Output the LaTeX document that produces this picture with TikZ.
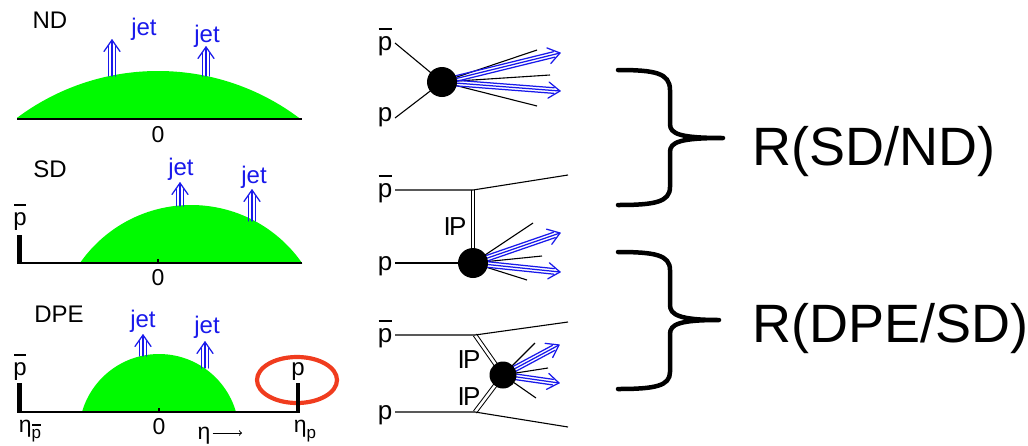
\documentclass[tikz,border=0pt]{standalone}
\usepackage{fontspec}
\setmainfont{Liberation Sans}
\usetikzlibrary{calc}
\pgfdeclarelayer{background}
\pgfsetlayers{background,main}

\definecolor{domegreen}{RGB}{0,250,0}
\definecolor{jetblue}{RGB}{25,25,235}
\definecolor{ringred}{RGB}{240,60,30}

% antiproton: p with a bar over it
\newcommand\pbar{\leavevmode\rlap{\hspace{0.03em}\raisebox{0.78em}{\rule{0.5em}{0.075em}}}p}
% rapidity symbol with a small lowered index
\newcommand\etawith[1]{η\raisebox{-0.3em}{\fontsize{17}{19}\selectfont #1}}
% Pomeron symbol
\newcommand\pomeron{I\kern-0.06em P}

% triple-lined jet arrow from #2 to #3, outer lines #1 off the middle one
\newcommand\jetarrow[3][3.8pt]{%
  \draw[jetline] (#2) -- (#3);
  \draw[jetline] ($(#2)!#1!90:(#3)$) -- ($(#3)!6pt!(#2)!#1!-90:(#2)$);
  \draw[jetline] ($(#2)!#1!-90:(#3)$) -- ($(#3)!6pt!(#2)!#1!90:(#2)$);
  \draw[jetline] ($(#3)!14pt!35:(#2)$) -- (#3) -- ($(#3)!14pt!-35:(#2)$);
}

\begin{document}
\begin{tikzpicture}[
  x=1pt, y=-1pt,
  lbl/.style={font=\fontsize{24}{28}\selectfont, inner sep=0pt, anchor=base},
  numlbl/.style={font=\fontsize{23}{27}\selectfont, inner sep=0pt, anchor=base},
  jetlbl/.style={font=\fontsize{24}{28}\selectfont, text=jetblue, inner sep=0pt, anchor=base},
  plbl/.style={font=\fontsize{26}{30}\selectfont, inner sep=0pt, anchor=base},
  pomlbl/.style={font=\fontsize{26}{30}\selectfont, inner sep=0pt, anchor=base},
  ratio/.style={font=\fontsize{54}{60}\selectfont, inner sep=0pt, anchor=base west},
  axisline/.style={line width=1.5pt},
  beambar/.style={line width=4.2pt},
  jetline/.style={draw=jetblue, line width=1.25pt, line cap=round, line join=round},
  partline/.style={line width=1.1pt},
  pomline/.style={double, double distance=2.6pt, line width=1pt},
  blob/.style={circle, fill=black, inner sep=0pt, minimum size=#1},
  bracket/.style={line width=4.5pt, line cap=round, line join=round},
  ring/.style={draw=ringred, line width=4.2pt},
  dome/.style={fill=domegreen},
  etaarrow/.style={line width=1pt, ->}
]
\useasboundingbox (0,0) rectangle (1028,445);

% ---------------- rapidity plots ----------------
% non-diffractive
\node[lbl] (ndt) at (50,28) {ND};
\begin{scope}
  \clip (17,0) rectangle (302,119);
  \fill[dome] (158,306.5) circle[radius=235.5pt];
\end{scope}
\draw[axisline] (17,119) -- (302,119);
\node[numlbl] (ndz) at (158,142) {0};
\coordinate (ndja) at (112,76);  \coordinate (ndjat) at (112,40);
\coordinate (ndjb) at (206,76);  \coordinate (ndjbt) at (206,47);
\jetarrow{ndja}{ndjat}
\jetarrow{ndjb}{ndjbt}
\node[jetlbl] (ndjl1) at (144,35) {jet};
\node[jetlbl] (ndjl2) at (207,42) {jet};

% single diffractive
\node[lbl] (sdt) at (50,177) {SD};
\node[lbl] (sdpb) at (20,225) {\pbar};
\begin{scope}
  \clip (80,0) rectangle (302,263);
  \fill[dome] (191,340.2) circle[radius=135.2pt];
\end{scope}
\draw[beambar] (19.5,235) -- (19.5,263);
\draw[axisline] (17,263) -- (302,263);
\draw[partline] (158,263) -- (158,259);
\node[numlbl] (sdz) at (158,285) {0};
\coordinate (sdja) at (180,206);  \coordinate (sdjat) at (180,183);
\coordinate (sdjb) at (252,221);  \coordinate (sdjbt) at (252,190);
\jetarrow{sdja}{sdjat}
\jetarrow{sdjb}{sdjbt}
\node[jetlbl] (sdjl1) at (181,175) {jet};
\node[jetlbl] (sdjl2) at (254,183) {jet};

% double Pomeron exchange
\node[lbl] (dpt) at (59,322) {DPE};
\node[lbl] (dppb) at (20,375) {\pbar};
\node[lbl] (dpp) at (298,375) {p};
\begin{scope}
  \clip (82,0) rectangle (236,412);
  \fill[dome] (159,434.1) circle[radius=80.1pt];
\end{scope}
\draw[ring] (297,380) ellipse[x radius=40pt, y radius=23pt];
\draw[beambar] (19.5,383) -- (19.5,412);
\draw[beambar] (298,383) -- (298,412);
\draw[axisline] (17,412) -- (300,412);
\draw[partline] (159,412) -- (159,408);
\node[numlbl] (dpz) at (159,434) {0};
\node[numlbl] (etapb) at (30,432) {\etawith{\pbar}};
\node[numlbl] (etap) at (305,432) {\etawith{p}};
\node[numlbl] (eta) at (204,439) {η};
\coordinate (etaend) at (242,433);
\draw[etaarrow] (eta.east |- etaend) ++(2pt,0) -- (etaend);
\coordinate (dpja) at (143,356);  \coordinate (dpjat) at (143,335);
\coordinate (dpjb) at (205,368);  \coordinate (dpjbt) at (205,342);
\jetarrow{dpja}{dpjat}
\jetarrow{dpjb}{dpjbt}
\node[jetlbl] (dpjl1) at (143,327) {jet};
\node[jetlbl] (dpjl2) at (207,333) {jet};

% ---------------- diagrams ----------------
% ND
\node[blob=30pt] (ndv) at (442,82) {};
\node[plbl] (ndpbl) at (385,50) {\pbar};
\node[plbl] (ndpl) at (385,121) {p};
\coordinate (ndpbs) at (395,43);  \coordinate (ndps) at (395,118);
\coordinate (ndo1) at (537,50);   \coordinate (ndo2) at (550,75);
\coordinate (ndo3) at (537,106);
\coordinate (ndj1) at (560,53);   \coordinate (ndj2) at (560,91);

% SD
\node[blob=30pt] (sdv) at (473,263) {};
\coordinate (sdk) at (473,190);
\node[plbl] (sdpbl) at (385,197) {\pbar};
\node[plbl] (sdpl) at (385,270) {p};
\node[pomlbl] (sdP) at (455,235) {\pomeron};
\coordinate (sdpbs) at (395,190); \coordinate (sdpbo) at (568,175);
\coordinate (sdps) at (395,263);
\coordinate (sdo1) at (533,223);  \coordinate (sdo2) at (542,256);
\coordinate (sdo3) at (527,280);
\coordinate (sdj1) at (560,233);  \coordinate (sdj2) at (560,272);

% DPE
\node[blob=27pt] (dpv) at (503,375) {};
\coordinate (dpk1) at (475,335);  \coordinate (dpk2) at (475,412);
\node[plbl] (dppbl) at (385,342) {\pbar};
\node[plbl] (dppl) at (385,419) {p};
\node[pomlbl] (dpP1) at (469,368) {\pomeron};
\node[pomlbl] (dpP2) at (469,405) {\pomeron};
\coordinate (dppbs) at (395,335); \coordinate (dppbo) at (568,322);
\coordinate (dpps) at (395,412);  \coordinate (dppo) at (568,427);
\coordinate (dpo1) at (535,343);  \coordinate (dpo2) at (548,368);
\coordinate (dpo3) at (536,398);
\coordinate (dpj1) at (559,345);  \coordinate (dpj2) at (559,383);

\begin{pgfonlayer}{background}
  % ND
  \draw[partline] (ndpbs) -- (ndv.center);
  \draw[partline] (ndps) -- (ndv.center);
  \foreach \e in {ndo1,ndo2,ndo3} \draw[partline] (ndv.center) -- (\e);
  \jetarrow[2.8pt]{ndv.center}{ndj1}
  \jetarrow[2.8pt]{ndv.center}{ndj2}
  % SD
  \draw[pomline] (sdk) -- (sdv.center);
  \draw[partline] (sdpbs) -- (sdk) -- (sdpbo);
  \draw[partline] (sdps) -- (sdv.center);
  \foreach \e in {sdo1,sdo2,sdo3} \draw[partline] (sdv.center) -- (\e);
  \jetarrow[2.8pt]{sdv.center}{sdj1}
  \jetarrow[2.8pt]{sdv.center}{sdj2}
  % DPE
  \draw[pomline] (dpk1) -- (dpv.center);
  \draw[pomline] (dpk2) -- (dpv.center);
  \draw[partline] (dppbs) -- (dpk1) -- (dppbo);
  \draw[partline] (dpps) -- (dpk2) -- (dppo);
  \foreach \e in {dpo1,dpo2,dpo3} \draw[partline] (dpv.center) -- (\e);
  \jetarrow[2.8pt]{dpv.center}{dpj1}
  \jetarrow[2.8pt]{dpv.center}{dpj2}
\end{pgfonlayer}

% ---------------- ratios ----------------
\draw[bracket] (618,70) .. controls (655,70) and (670,73) .. (670,90)
  -- (670,124) .. controls (670,134) and (680,138) .. (723,138)
  .. controls (680,138) and (670,142) .. (670,152)
  -- (670,187) .. controls (670,202) and (655,205) .. (618,205);
\node[ratio] (r1) at (752,165) {R(SD/ND)};

\draw[bracket] (618,252) .. controls (655,252) and (670,255) .. (670,270)
  -- (670,305) .. controls (670,315) and (680,320) .. (719,320)
  .. controls (680,320) and (670,324) .. (670,334)
  -- (670,372) .. controls (670,386) and (655,389) .. (618,389);
\node[ratio] (r2) at (752,342) {R(DPE/SD)};
\end{tikzpicture}
\end{document}
